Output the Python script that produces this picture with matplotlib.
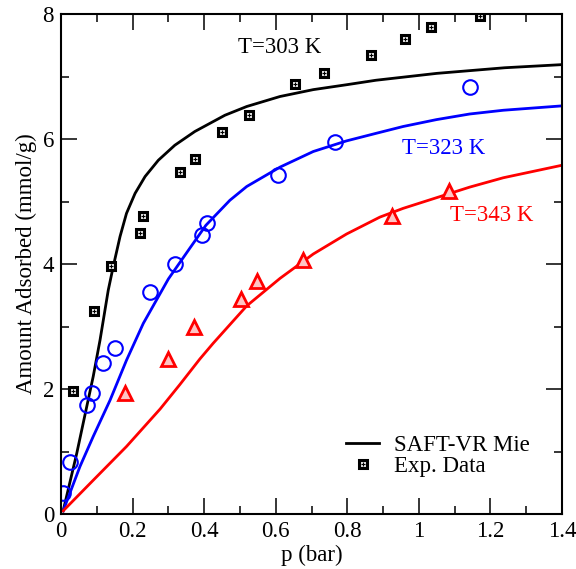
import numpy as np
import matplotlib.pyplot as plt
from matplotlib.ticker import MultipleLocator

plt.rcParams['font.family'] = ['Liberation Serif', 'DejaVu Serif']
plt.rcParams['font.size'] = 16.5

# SAFT-VR Mie curves
p_303 = [0.006, 0.044, 0.072, 0.09, 0.109, 0.132, 0.146, 0.165, 0.183, 0.207, 0.235,
         0.272, 0.318, 0.374, 0.458, 0.519, 0.612, 0.705, 0.80, 0.88, 1.05, 1.24, 1.40]
q_303 = [0.05, 0.97, 1.72, 2.20, 2.78, 3.58, 3.96, 4.44, 4.81, 5.13, 5.40,
         5.66, 5.90, 6.12, 6.38, 6.52, 6.68, 6.79, 6.87, 6.94, 7.05, 7.14, 7.19]

p_323 = [0.006, 0.053, 0.09, 0.137, 0.183, 0.23, 0.30, 0.356, 0.405, 0.472,
         0.519, 0.612, 0.705, 0.798, 0.88, 0.956, 1.049, 1.142, 1.236, 1.40]
q_323 = [0.05, 0.76, 1.24, 1.82, 2.46, 3.05, 3.76, 4.22, 4.62, 5.02,
         5.24, 5.55, 5.80, 5.97, 6.09, 6.20, 6.31, 6.40, 6.46, 6.53]

p_343 = [0.006, 0.09, 0.183, 0.277, 0.332, 0.388, 0.425, 0.519, 0.612, 0.705, 0.798,
         0.891, 0.956, 1.049, 1.142, 1.236, 1.40]
q_343 = [0.05, 0.54, 1.08, 1.68, 2.07, 2.48, 2.73, 3.33, 3.77, 4.16, 4.48,
         4.75, 4.89, 5.06, 5.23, 5.38, 5.58]

# experimental data
exp_p_303 = [0.034, 0.092, 0.14, 0.22, 0.229, 0.332, 0.374, 0.45, 0.525, 0.654,
             0.735, 0.866, 0.96, 1.034, 1.17]
exp_q_303 = [1.97, 3.25, 3.97, 4.50, 4.77, 5.47, 5.68, 6.11, 6.38, 6.88,
             7.06, 7.34, 7.60, 7.79, 7.97]

exp_p_323 = [0.0065, 0.024, 0.073, 0.088, 0.118, 0.15, 0.249, 0.318, 0.393, 0.407,
             0.605, 0.766, 1.144]
exp_q_323 = [0.34, 0.84, 1.75, 1.93, 2.42, 2.65, 3.55, 4.00, 4.47, 4.65,
             5.42, 5.96, 6.84]

exp_p_343 = [0.179, 0.298, 0.372, 0.503, 0.549, 0.675, 0.925, 1.084]
exp_q_343 = [1.93, 2.48, 3.00, 3.44, 3.73, 4.06, 4.77, 5.17]

x_ticks = [0, 0.2, 0.4, 0.6, 0.8, 1.0, 1.2, 1.4]
x_tick_labels = ['0', '0.2', '0.4', '0.6', '0.8', '1', '1.2', '1.4']
y_ticks = [0, 2, 4, 6, 8]

fig = plt.figure(figsize=(5.76, 5.69), dpi=100)
ax = fig.add_axes([61/576, 55/569, 501/576, 500/569])

line_sv, = ax.plot(p_303, q_303, color='black', lw=2.0, solid_joinstyle='round')
ax.plot(p_323, q_323, color='blue', lw=2.0, solid_joinstyle='round')
ax.plot(p_343, q_343, color='red', lw=2.0, solid_joinstyle='round')

sq, = ax.plot(exp_p_303, exp_q_303, 's', ms=5.2, mfc='#e8e8e8', mec='black', mew=2.2, ls='none')
cr, = ax.plot(exp_p_303, exp_q_303, '+', ms=3.2, mec='black', mew=0.8, ls='none')
ax.plot(exp_p_323, exp_q_323, 'o', ms=10.5, mfc='none', mec='blue', mew=1.5, ls='none')
ax.plot(exp_p_343, exp_q_343, '^', ms=10, mfc='#ffc4c4', mec='red', mew=2.0, ls='none')

ax.text(0.612, 7.47, 'T=303 K', color='black', ha='center', va='center')
ax.text(1.07, 5.84, 'T=323 K', color='blue', ha='center', va='center')
ax.text(1.204, 4.77, 'T=343 K', color='red', ha='center', va='center')

ax.set_xlim(0, 1.4)
ax.set_ylim(0, 8)
ax.set_xticks(x_ticks)
ax.set_xticklabels(x_tick_labels)
ax.set_yticks(y_ticks)
ax.xaxis.set_minor_locator(MultipleLocator(0.1))
ax.yaxis.set_minor_locator(MultipleLocator(1))
ax.tick_params(which='both', direction='in', top=True, right=True, width=1.1)
ax.tick_params(which='major', length=11.5, pad=5)
ax.tick_params(which='minor', length=5.8)
for s in ax.spines.values():
    s.set_linewidth(1.5)

ax.set_xlabel('p (bar)', labelpad=2)
ax.set_ylabel('Amount Adsorbed (mmol/g)', labelpad=4)

ax.legend([line_sv, (sq, cr)], ['SAFT-VR Mie', 'Exp. Data'], frameon=False,
          loc='lower left', bbox_to_anchor=(0.569, 0.074), borderpad=0,
          borderaxespad=0, handlelength=1.44, handletextpad=0.65, labelspacing=0.0)

fig.savefig('out.png', dpi=100)
